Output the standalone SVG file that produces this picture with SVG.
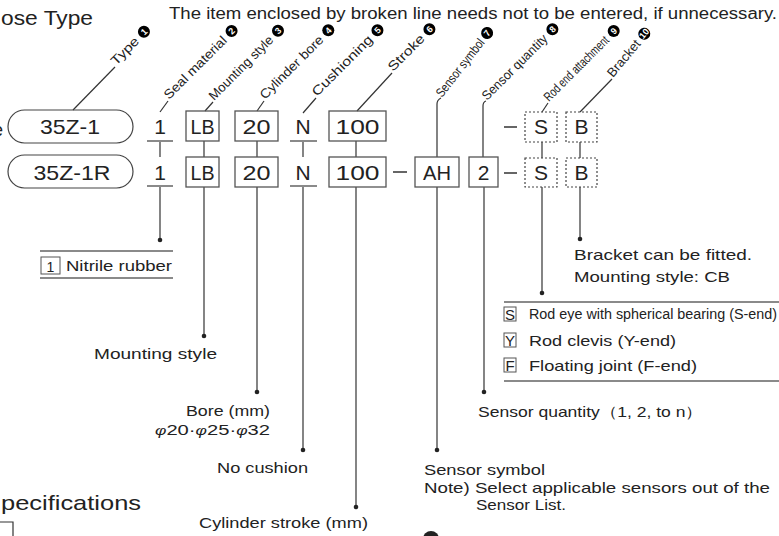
<svg xmlns="http://www.w3.org/2000/svg" width="779" height="536" viewBox="0 0 779 536">
<style>
text{font-family:"Liberation Sans",Arial,sans-serif;fill:#222}
.code{font-size:21px;text-anchor:middle}
.lbl{font-size:13px}
.num{font-size:9px;font-weight:bold;fill:#fff;text-anchor:middle;font-family:"Liberation Sans",Arial,sans-serif}
.t15{font-size:15px}
.box{fill:none;stroke:#555;stroke-width:1.3}
.dbox{fill:none;stroke:#444;stroke-width:1.2;stroke-dasharray:2 2}
.pill{fill:none;stroke:#444;stroke-width:1.2}
.ln{stroke:#333;stroke-width:1.2;fill:none}
.rule{stroke:#8a8a8a;stroke-width:2}
.dot{fill:#222}
.sbox{fill:none;stroke:#555;stroke-width:1}
.dash{stroke:#333;stroke-width:1.5}
</style>

<!-- Titles -->
<g id="titles">
<text x="1" y="25" font-size="21" textLength="92" lengthAdjust="spacingAndGlyphs">ose Type</text>
<text x="169" y="19" font-size="16" textLength="608" lengthAdjust="spacingAndGlyphs">The item enclosed by broken line needs not to be entered, if unnecessary.</text>
<text x="-7" y="136" font-size="18">e</text>
<text x="1" y="510" font-size="21" textLength="140" lengthAdjust="spacingAndGlyphs">pecifications</text>
</g>

<!-- Rotated item labels -->
<g id="labels">
<g id="lbl-type" transform="translate(116,66) rotate(-45)"><text class="lbl" x="0" y="0" textLength="34" lengthAdjust="spacingAndGlyphs">Type</text><circle cx="44" cy="-4.5" r="6"/><text class="num" x="44" y="-1.3">1</text></g>
<g id="lbl-seal" transform="translate(169,100) rotate(-45)"><text class="lbl" x="0" y="0" textLength="83" lengthAdjust="spacingAndGlyphs">Seal material</text><circle cx="93" cy="-4.5" r="6"/><text class="num" x="93" y="-1.3">2</text></g>
<g id="lbl-mount" transform="translate(214,101) rotate(-45)"><text class="lbl" x="0" y="0" textLength="85" lengthAdjust="spacingAndGlyphs">Mounting style</text><circle cx="95" cy="-4.5" r="6"/><text class="num" x="95" y="-1.3">3</text></g>
<g id="lbl-bore" transform="translate(265,100) rotate(-45)"><text class="lbl" x="0" y="0" textLength="84" lengthAdjust="spacingAndGlyphs">Cylinder bore</text><circle cx="94" cy="-4.5" r="6"/><text class="num" x="94" y="-1.3">4</text></g>
<g id="lbl-cush" transform="translate(317,97) rotate(-45)"><text class="lbl" x="0" y="0" textLength="80" lengthAdjust="spacingAndGlyphs">Cushioning</text><circle cx="90" cy="-4.5" r="6"/><text class="num" x="90" y="-1.3">5</text></g>
<g id="lbl-stroke" transform="translate(393,72) rotate(-45)"><text class="lbl" x="0" y="0" textLength="46" lengthAdjust="spacingAndGlyphs">Stroke</text><circle cx="56" cy="-4.5" r="6"/><text class="num" x="56" y="-1.3">6</text></g>
<g id="lbl-ssym" transform="translate(442,98) rotate(-52)"><text class="lbl" x="0" y="0" font-size="12" textLength="70" lengthAdjust="spacingAndGlyphs">Sensor symbol</text><circle cx="79" cy="-4.5" r="6"/><text class="num" x="79" y="-1.3">7</text></g>
<g id="lbl-sqty" transform="translate(487,101) rotate(-45)"><text class="lbl" x="0" y="0" font-size="12" textLength="87" lengthAdjust="spacingAndGlyphs">Sensor quantity</text><circle cx="97" cy="-4.5" r="6"/><text class="num" x="97" y="-1.3">8</text></g>
<g id="lbl-rod" transform="translate(549,102) rotate(-45)"><text class="lbl" x="0" y="0" font-size="12" textLength="86" lengthAdjust="spacingAndGlyphs">Rod end attachment</text><circle cx="96" cy="-4.5" r="6"/><text class="num" x="96" y="-1.3">9</text></g>
<g id="lbl-bracket" transform="translate(613,78) rotate(-50)"><text class="lbl" x="0" y="0" textLength="44" lengthAdjust="spacingAndGlyphs">Bracket</text><circle cx="54" cy="-4.5" r="6"/><text class="num" x="54" y="-1.6" font-size="7.5">10</text></g>
</g>

<!-- Connectors -->
<g id="connectors">
<line class="ln" x1="73" y1="110" x2="115" y2="67"/>
<line class="ln" x1="160" y1="112" x2="168" y2="101"/>
<line class="ln" x1="205" y1="111" x2="213" y2="102"/>
<line class="ln" x1="257" y1="111" x2="264" y2="101"/>
<line class="ln" x1="303" y1="113" x2="316" y2="98"/>
<line class="ln" x1="357" y1="111" x2="392" y2="73"/>
<path class="ln" d="M437,157 V104 Q437,100 441,98"/>
<path class="ln" d="M483,157 V106 Q483,102 486,101"/>
<line class="ln" x1="542" y1="112" x2="548" y2="103"/>
<line class="ln" x1="580" y1="112" x2="612" y2="79"/>
<line class="ln" x1="160" y1="141" x2="160" y2="157"/>
<line class="ln" x1="204" y1="141" x2="204" y2="157"/>
<line class="ln" x1="257" y1="141" x2="257" y2="157"/>
<line class="ln" x1="303" y1="141" x2="303" y2="157"/>
<line class="ln" x1="356" y1="141" x2="356" y2="157"/>
<line class="ln" x1="542" y1="142" x2="542" y2="158"/>
<line class="ln" x1="580" y1="142" x2="580" y2="158"/>
<line class="ln" x1="160" y1="186" x2="160" y2="240"/><circle class="dot" cx="160" cy="240" r="2.3"/>
<line class="ln" x1="204" y1="187" x2="204" y2="336"/><circle class="dot" cx="204" cy="336" r="2.3"/>
<line class="ln" x1="257" y1="187" x2="257" y2="392"/><circle class="dot" cx="257" cy="392" r="2.3"/>
<line class="ln" x1="303" y1="186" x2="303" y2="450"/><circle class="dot" cx="303" cy="450" r="2.3"/>
<line class="ln" x1="356" y1="187" x2="356" y2="507"/><circle class="dot" cx="356" cy="507" r="2.3"/>
<line class="ln" x1="437" y1="187" x2="437" y2="450"/><circle class="dot" cx="437" cy="450" r="2.3"/>
<line class="ln" x1="484" y1="187" x2="484" y2="392"/><circle class="dot" cx="484" cy="392" r="2.3"/>
<line class="ln" x1="542" y1="187" x2="542" y2="293"/><circle class="dot" cx="542" cy="293" r="2.3"/>
<line class="ln" x1="580" y1="187" x2="580" y2="239"/><circle class="dot" cx="580" cy="239" r="2.3"/>
</g>

<!-- Row 1 -->
<g id="row1-type"><rect class="pill" x="8" y="110" width="125" height="33" rx="16.5"/><text class="code" x="70" y="134" textLength="60" lengthAdjust="spacingAndGlyphs">35Z-1</text></g>
<g id="row1-seal"><text class="code" x="160" y="134">1</text><line class="rule" x1="147" y1="141" x2="173" y2="141"/></g>
<g id="row1-mount"><rect class="box" x="186" y="111" width="33" height="30"/><text class="code" x="202.5" y="134" textLength="24" lengthAdjust="spacingAndGlyphs">LB</text></g>
<g id="row1-bore"><rect class="box" x="235" y="111" width="43" height="30"/><text class="code" x="256.5" y="134" textLength="28" lengthAdjust="spacingAndGlyphs">20</text></g>
<g id="row1-cush"><text class="code" x="303" y="134">N</text><line class="rule" x1="290" y1="141" x2="317" y2="141"/></g>
<g id="row1-stroke"><rect class="box" x="329" y="111" width="57" height="30"/><text class="code" x="357.5" y="134" textLength="44" lengthAdjust="spacingAndGlyphs">100</text></g>
<g id="row1-rod"><line class="dash" x1="504" y1="127" x2="517" y2="127"/><rect class="dbox" x="525" y="112" width="32" height="30"/><text class="code" x="541" y="134">S</text></g>
<g id="row1-bracket"><rect class="dbox" x="566" y="112" width="31" height="30"/><text class="code" x="581.5" y="134">B</text></g>

<!-- Row 2 -->
<g id="row2-type"><rect class="pill" x="8" y="155" width="125" height="33" rx="16.5"/><text class="code" x="72" y="180" textLength="77" lengthAdjust="spacingAndGlyphs">35Z-1R</text></g>
<g id="row2-seal"><text class="code" x="160" y="180">1</text><line class="rule" x1="147" y1="186" x2="173" y2="186"/></g>
<g id="row2-mount"><rect class="box" x="186" y="157" width="33" height="30"/><text class="code" x="202.5" y="180" textLength="24" lengthAdjust="spacingAndGlyphs">LB</text></g>
<g id="row2-bore"><rect class="box" x="235" y="157" width="43" height="30"/><text class="code" x="256.5" y="180" textLength="28" lengthAdjust="spacingAndGlyphs">20</text></g>
<g id="row2-cush"><text class="code" x="303" y="180">N</text><line class="rule" x1="290" y1="186" x2="317" y2="186"/></g>
<g id="row2-stroke"><rect class="box" x="329" y="157" width="57" height="30"/><text class="code" x="357.5" y="180" textLength="44" lengthAdjust="spacingAndGlyphs">100</text></g>
<g id="row2-ssym"><line class="dash" x1="393" y1="172" x2="407" y2="172"/><rect class="box" x="415" y="157" width="44" height="30"/><text class="code" x="437" y="180" textLength="28" lengthAdjust="spacingAndGlyphs">AH</text></g>
<g id="row2-sqty"><rect class="box" x="469" y="157" width="29" height="30"/><text class="code" x="483.5" y="180">2</text></g>
<g id="row2-rod"><line class="dash" x1="504" y1="173" x2="517" y2="173"/><rect class="dbox" x="525" y="158" width="32" height="29"/><text class="code" x="541" y="180">S</text></g>
<g id="row2-bracket"><rect class="dbox" x="566" y="158" width="31" height="29"/><text class="code" x="581.5" y="180">B</text></g>

<!-- Notes -->
<g id="note-seal">
<line class="rule" x1="40" y1="251" x2="173" y2="251"/>
<rect class="sbox" x="41" y="257" width="19" height="17"/><text x="50.5" y="272" font-size="14" text-anchor="middle">1</text>
<text x="66" y="271" class="t15" textLength="106" lengthAdjust="spacingAndGlyphs">Nitrile rubber</text>
<line class="rule" x1="40" y1="278" x2="173" y2="278"/>
</g>
<g id="note-mount"><text x="217" y="359" class="t15" text-anchor="end" textLength="123" lengthAdjust="spacingAndGlyphs">Mounting style</text></g>
<g id="note-bore">
<text x="270" y="416" class="t15" text-anchor="end" textLength="84" lengthAdjust="spacingAndGlyphs">Bore (mm)</text>
<text x="270" y="435" class="t15" text-anchor="end" textLength="115" lengthAdjust="spacingAndGlyphs"><tspan font-style="italic" font-size="13">φ</tspan>20·<tspan font-style="italic" font-size="13">φ</tspan>25·<tspan font-style="italic" font-size="13">φ</tspan>32</text>
</g>
<g id="note-cush"><text x="217" y="473" class="t15" textLength="91" lengthAdjust="spacingAndGlyphs">No cushion</text></g>
<g id="note-stroke"><text x="199" y="528" class="t15" textLength="169" lengthAdjust="spacingAndGlyphs">Cylinder stroke (mm)</text></g>
<g id="note-ssym">
<text x="424" y="475" class="t15" textLength="121" lengthAdjust="spacingAndGlyphs">Sensor symbol</text>
<text x="424" y="493" class="t15" textLength="346" lengthAdjust="spacingAndGlyphs">Note) Select applicable sensors out of the</text>
<text x="476" y="510" class="t15" textLength="90" lengthAdjust="spacingAndGlyphs">Sensor List.</text>
</g>
<g id="note-sqty"><text x="478" y="417" class="t15" textLength="225" lengthAdjust="spacingAndGlyphs">Sensor quantity（1, 2, to n）</text></g>
<g id="note-rod">
<line class="rule" x1="504" y1="302" x2="779" y2="302"/>
<rect class="sbox" x="504" y="307" width="12" height="14"/><text x="510" y="319.5" font-size="15" text-anchor="middle">S</text>
<text x="529" y="319" font-size="14" textLength="248" lengthAdjust="spacingAndGlyphs">Rod eye with spherical bearing (S-end)</text>
<rect class="sbox" x="504" y="333" width="12" height="14"/><text x="510" y="345.5" font-size="15" text-anchor="middle">Y</text>
<text x="529" y="346" class="t15" textLength="147" lengthAdjust="spacingAndGlyphs">Rod clevis (Y-end)</text>
<rect class="sbox" x="504" y="358" width="12" height="14"/><text x="510" y="370.5" font-size="15" text-anchor="middle">F</text>
<text x="529" y="371" class="t15" textLength="168" lengthAdjust="spacingAndGlyphs">Floating joint (F-end)</text>
<line class="rule" x1="504" y1="381" x2="779" y2="381"/>
</g>
<g id="note-bracket">
<text x="574" y="260" class="t15" textLength="178" lengthAdjust="spacingAndGlyphs">Bracket can be fitted.</text>
<text x="574" y="282" class="t15" textLength="156" lengthAdjust="spacingAndGlyphs">Mounting style: CB</text>
</g>

<!-- cut-off fragments at edges -->
<g id="fragments">
<path class="ln" d="M0,522 H13 V536" stroke="#444"/>
<circle cx="431" cy="539" r="8" fill="#222"/>
</g>
</svg>
